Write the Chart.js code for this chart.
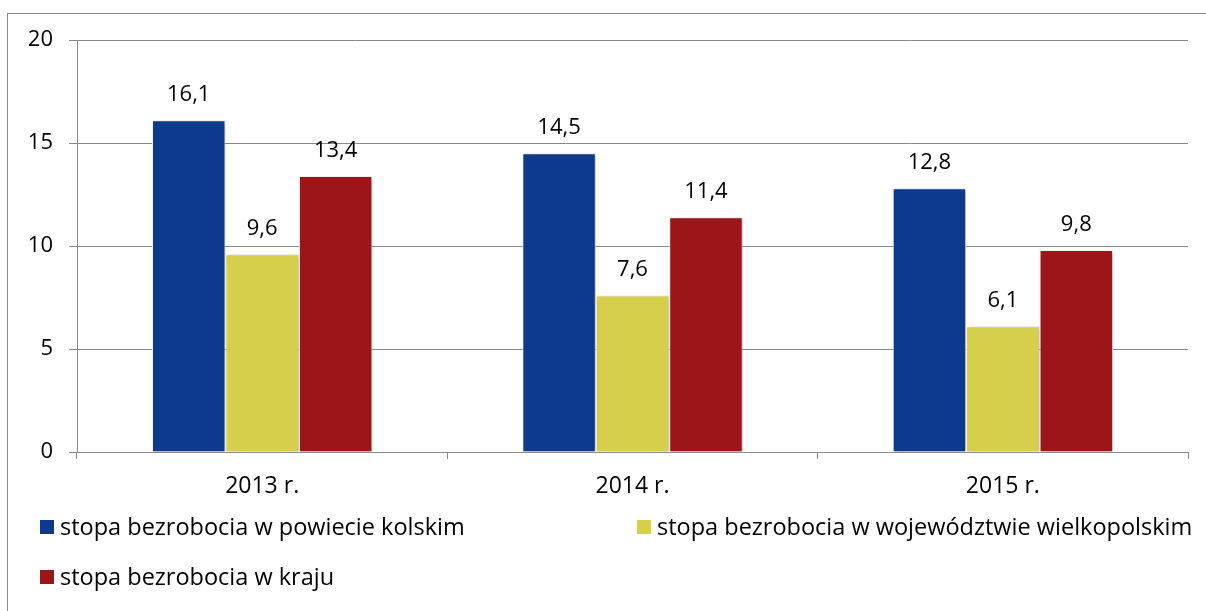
<!DOCTYPE html>
<html>
<head>
<meta charset="utf-8">
<script src="https://cdn.jsdelivr.net/npm/chart.js@4.4.1/dist/chart.umd.min.js"></script>
<style>
  html, body { margin: 0; padding: 0; background: #fff; }
  #wrap { position: relative; width: 1206px; height: 611px; }
</style>
</head>
<body>
<div id="wrap"><canvas id="c" width="1206" height="611"></canvas></div>
<script>
const categories = ['2013 r.', '2014 r.', '2015 r.'];
const seriesNames = [
  'stopa bezrobocia w powiecie kolskim',
  'stopa bezrobocia w województwie wielkopolskim',
  'stopa bezrobocia w kraju'
];
const powiatValues = [16.1, 14.5, 12.8];
const wojewodztwoValues = [9.6, 7.6, 6.1];
const krajValues = [13.4, 11.4, 9.8];
const yTicks = [0, 5, 10, 15, 20];
const seriesColors = ['#0E3A8D', '#D6CF4B', '#9C1518'];

const FONT = '"Open Sans", "Noto Sans", sans-serif';

const fmt = v => v.toFixed(1).replace('.', ',');

const frame = {
  id: 'frame',
  beforeDraw(chart) {
    const ctx = chart.ctx;
    ctx.save();
    ctx.strokeStyle = '#8a8a8a';
    ctx.lineWidth = 1;
    ctx.strokeRect(7.5, 13.5, 1400, 800);
    ctx.restore();
  }
};

const shadow = {
  id: 'shadow',
  beforeDatasetsDraw(chart) {
    const ctx = chart.ctx;
    ctx.save();
    ctx.shadowColor = 'rgba(0,0,0,0.28)';
    ctx.shadowBlur = 4;
    ctx.shadowOffsetX = 2;
    ctx.shadowOffsetY = 1;
  },
  afterDatasetsDraw(chart) {
    chart.ctx.restore();
  }
};

const valueLabels = {
  id: 'valueLabels',
  afterDatasetsDraw(chart) {
    const ctx = chart.ctx;
    ctx.save();
    ctx.shadowColor = 'transparent';
    ctx.fillStyle = '#000';
    ctx.font = '22px ' + FONT;
    ctx.textAlign = 'center';
    ctx.textBaseline = 'alphabetic';
    chart.data.datasets.forEach((ds, di) => {
      const meta = chart.getDatasetMeta(di);
      meta.data.forEach((el, i) => {
        ctx.fillText(fmt(ds.data[i]), el.x, el.y - 19);
      });
    });
    ctx.restore();
  }
};

const customLegend = {
  id: 'customLegend',
  afterDraw(chart) {
    const ctx = chart.ctx;
    const pos = [[40, 527], [637, 527], [40, 577]];
    ctx.save();
    ctx.font = '23.5px ' + FONT;
    ctx.textBaseline = 'middle';
    ctx.textAlign = 'left';
    chart.data.datasets.forEach((ds, i) => {
      const [x, y] = pos[i];
      ctx.fillStyle = ds.backgroundColor;
      ctx.fillRect(x, y - 7, 14, 14);
      ctx.fillStyle = '#000';
      ctx.fillText(ds.label, x + 20, y + 1);
    });
    ctx.restore();
  }
};

new Chart(document.getElementById('c'), {
  type: 'bar',
  data: {
    labels: categories,
    datasets: [
      { label: seriesNames[0], data: powiatValues, backgroundColor: seriesColors[0] },
      { label: seriesNames[1], data: wojewodztwoValues, backgroundColor: seriesColors[1] },
      { label: seriesNames[2], data: krajValues, backgroundColor: seriesColors[2] }
    ].map(d => Object.assign(d, {
      borderColor: '#ffffff',
      borderWidth: 1,
      categoryPercentage: 0.595,
      barPercentage: 1
    }))
  },
  options: {
    responsive: false,
    animation: false,
    devicePixelRatio: 1,
    layout: { padding: { top: 40, right: 18, left: 0, bottom: 0 } },
    plugins: {
      legend: { display: false },
      tooltip: { enabled: false }
    },
    scales: {
      x: {
        grid: {
          offset: true,
          drawOnChartArea: false,
          drawTicks: true,
          tickLength: 7,
          color: '#8a8a8a'
        },
        border: { color: '#8a8a8a', width: 1 },
        ticks: {
          color: '#000',
          font: { family: FONT, size: 23 },
          padding: 14
        },
        afterFit(scale) { scale.height = 159; }
      },
      y: {
        min: 0,
        max: 20,
        afterBuildTicks(scale) { scale.ticks = yTicks.map(v => ({ value: v })); },
        grid: {
          color: '#8a8a8a',
          lineWidth: 1,
          drawTicks: true,
          tickLength: 8
        },
        border: { color: '#8a8a8a', width: 1 },
        ticks: {
          color: '#000',
          font: { family: FONT, size: 22 },
          padding: 16
        },
        afterFit(scale) { scale.width = 77; }
      }
    }
  },
  plugins: [frame, shadow, valueLabels, customLegend]
});
</script>
</body>
</html>
